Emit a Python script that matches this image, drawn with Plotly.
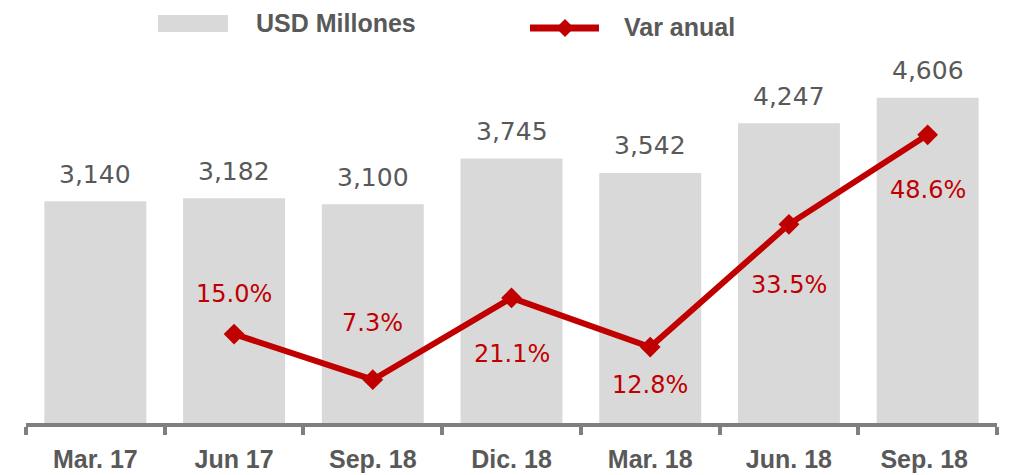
import plotly.graph_objects as go

categories = ["Mar. 17", "Jun 17", "Sep. 18", "Dic. 18", "Mar. 18", "Jun. 18", "Sep. 18 "]
usd_millones = [3140, 3182, 3100, 3745, 3542, 4247, 4606]
var_anual = [None, 15.0, 7.3, 21.1, 12.8, 33.5, 48.6]

# label offsets (px) for the percentage labels, relative to the markers
pct_shift = [0, 40, 57, -56, -38, -61, -55]

GRAY = "#d9d9d9"
RED = "#c00000"
TXT = "#595959"
AXIS = "#7f7f7f"
FONT = "Liberation Sans, Arial, sans-serif"
NUMFONT = "DejaVu Sans, Verdana, sans-serif"

fig = go.Figure()
fig.add_trace(go.Bar(
    x=categories, y=usd_millones, name="USD Millones",
    marker=dict(color=GRAY, line=dict(width=0)), width=0.735,
    showlegend=False, hoverinfo="x+y",
))
fig.add_trace(go.Scatter(
    x=categories, y=var_anual, name="Var anual", yaxis="y2",
    mode="lines+markers", line=dict(color=RED, width=6),
    marker=dict(symbol="diamond", size=16, color=RED),
    showlegend=False, cliponaxis=False,
))

annotations = []
for c, v in zip(categories, usd_millones):
    annotations.append(dict(
        x=c, y=v, xref="x", yref="y", text=f"{v:,}", showarrow=False,
        yanchor="middle", yshift=27,
        font=dict(family=NUMFONT, size=25, color=TXT),
    ))
for c, v, s in zip(categories, var_anual, pct_shift):
    if v is None:
        continue
    annotations.append(dict(
        x=c, y=v, xref="x", yref="y2", text=f"{v:.1f}%", showarrow=False,
        yanchor="middle", yshift=s,
        font=dict(family=NUMFONT, size=24, color=RED),
    ))

# manual legend
L, R, T, B = 26, 25, 50, 52
W = 1022 - L - R
H = 475 - T - B


def px(x):
    return (x - L) / W


def py(y):
    return (475 - B - y) / H


annotations.append(dict(x=px(254), y=py(23), xref="paper", yref="paper",
                        text="<b>USD Millones</b>", showarrow=False,
                        xanchor="left", yanchor="middle",
                        font=dict(family=FONT, size=25, color=TXT)))
annotations.append(dict(x=px(622), y=py(27), xref="paper", yref="paper",
                        text="<b>Var anual</b>", showarrow=False,
                        xanchor="left", yanchor="middle",
                        font=dict(family=FONT, size=25, color=TXT)))

shapes = [
    dict(type="rect", xref="paper", yref="paper",
         x0=px(158), x1=px(228), y0=py(32), y1=py(15),
         fillcolor=GRAY, line=dict(width=0)),
    dict(type="line", xref="paper", yref="paper",
         x0=px(530), x1=px(599), y0=py(28), y1=py(28),
         line=dict(color=RED, width=7)),
    dict(type="path", xref="paper", yref="paper",
         path=(f"M {px(556)} {py(28)} L {px(565)} {py(19)} "
               f"L {px(574)} {py(28)} L {px(565)} {py(37)} Z"),
         fillcolor=RED, line=dict(color=RED, width=0)),
]

fig.update_layout(
    width=1022, height=475,
    margin=dict(l=L, r=R, t=T, b=B, autoexpand=False),
    plot_bgcolor="white", paper_bgcolor="white",
    showlegend=False,
    xaxis=dict(
        type="category", tickson="boundaries", ticks="outside",
        ticklen=8, tickwidth=4, tickcolor=AXIS,
        showline=True, linecolor=AXIS, linewidth=4,
        showgrid=False, zeroline=False, automargin=False,
        tickfont=dict(family=FONT, size=25, color=TXT),
        ticklabelstandoff=11,
        tickprefix="<b>", ticksuffix="</b>",
    ),
    yaxis=dict(range=[0, 5283], visible=False, showgrid=False, zeroline=False),
    yaxis2=dict(range=[0, 62.9], overlaying="y", side="right",
                visible=False, showgrid=False, zeroline=False),
    annotations=annotations,
    shapes=shapes,
)

fig.write_html("out.html", config={"displayModeBar": False},
               post_script="document.body.style.margin='0px';")
